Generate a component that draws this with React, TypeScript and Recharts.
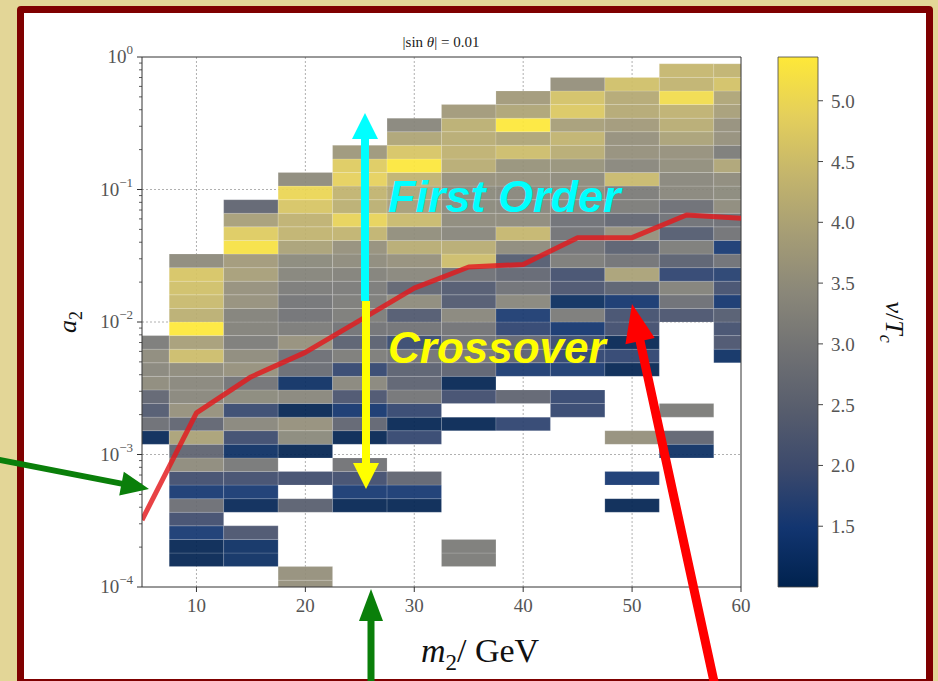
import React from 'react';
import { ComposedChart, XAxis, YAxis, CartesianGrid, ReferenceArea, ReferenceLine, Line } from 'recharts';

const _ = null;

// m2 grid (GeV), one heat-map column per value
const M2_CENTERS = [5, 10, 15, 20, 25, 30, 35, 40, 45, 50, 55, 60];
const M2_MIN = 5;
const M2_MAX = 60;
const M2_HALF = 2.5;

// a2 grid: log-spaced points from 1e-4 to 1
const A2_LOG_MIN = -4;
const A2_LOG_MAX = 0;
const A2_POINTS = 40;

// v/Tc for each m2 column, from the lowest a2 row upward (_ = no point)
const VT_M5 = [_, _, _, _, _, _, _, _, _, _, _, 1.11, 2.78, 2.28, 2.56, 3.44, 3.33, 3.44, 3.06];
const VT_M10 = [_, _, 1.06, 1.06, 1.5, 2.0, 2.78, 1.5, 2.0, 3.44, 2.56, 3.94, 2.56, 3.56, 3.33, 3.33, 3.44, 4.5, 3.89, 5.36, 4.22, 4.44, 4.56, 4.67, 3.44];
const VT_M15 = [_, _, 1.28, 1.28, 2.17, _, 1.11, 1.5, 2.0, 3.0, 1.28, 1.94, 3.33, 1.89, 3.39, 2.89, 3.56, 3.44, 3.11, 3.22, 3.22, 3.56, 3.56, 3.89, 3.78, 5.22, 4.78, 3.89, 2.56];
const VT_M20 = [3.56, 3.56, _, _, _, _, 2.44, _, 2.0, _, 1.06, 3.39, 3.56, 1.06, 3.33, 1.28, 2.72, 2.78, 3.56, 3.06, 2.89, 2.94, 3.06, 3.28, 3.39, 3.94, 4.33, 4.28, 4.67, 5.0, 3.44];
const VT_M25 = [_, _, _, _, _, _, 1.06, 1.5, 2.0, 2.89, _, 1.06, 2.56, 1.44, 2.17, 3.33, 1.83, 3.11, 2.44, 2.89, 3.11, 3.11, 3.06, 3.22, 3.44, 3.56, 4.33, 4.94, 4.22, 4.33, 4.89, 4.78, 3.72];
const VT_M30 = [_, _, _, _, _, _, 1.06, 1.5, 2.56, _, _, 1.83, 1.06, 1.83, 2.94, 2.5, 2.44, 2.89, 1.89, 2.89, 2.28, 3.44, 2.56, 3.33, 3.56, 4.17, 3.5, 4.44, 3.89, 4.0, 4.33, 5.33, 4.67, 4.0, 3.33];
const VT_M35 = [_, _, 3.11, 3.11, _, _, _, _, _, _, _, _, 1.06, _, 2.0, 1.06, 2.5, 2.94, 2.83, 2.89, 3.33, 2.28, 2.28, 2.83, 4.5, 4.17, 3.33, 3.44, 3.39, 3.39, 3.56, 4.17, 4.28, 4.17, 4.22, 3.78];
const VT_M40 = [_, _, _, _, _, _, _, _, _, _, _, _, 1.78, _, 2.56, _, 1.56, 2.44, 2.56, 1.78, 1.56, 3.33, 2.83, 2.61, 2.33, 3.44, 4.39, 3.44, 3.33, 3.33, 3.56, 3.61, 4.5, 4.0, 5.35, 4.0, 3.78];
const VT_M45 = [_, _, _, _, _, _, _, _, _, _, _, _, _, 1.83, 1.83, _, 1.56, 1.78, 1.89, 1.44, 3.06, 1.22, 2.17, 2.05, 3.11, 2.89, 2.89, 2.83, 3.33, 3.44, 3.44, 3.61, 4.17, 4.33, 3.89, 4.72, 4.61, 3.56];
const VT_M50 = [_, _, _, _, _, _, 1.06, _, 1.5, _, _, 3.56, _, _, _, _, 1.06, 1.78, 1.06, 2.0, 2.05, 1.44, 2.44, 3.94, 2.89, 2.44, 3.56, 2.61, 3.11, 3.11, 4.44, 3.33, 3.56, 3.56, 3.78, 4.11, 4.11, 4.56];
const VT_M55 = [_, _, _, _, _, _, _, _, _, _, 1.28, 2.56, _, 3.11, _, _, _, _, _, _, 2.17, 2.78, 3.22, 1.78, 2.44, 3.11, 2.33, 2.83, 2.78, 3.33, 3.33, 3.5, 3.56, 3.94, 4.17, 4.28, 5.11, 4.33, 4.39];
const VT_M60 = [_, _, _, _, _, _, _, _, _, _, _, _, _, _, _, _, _, 1.28, 2.17, 2.05, 2.33, 1.44, 2.05, 1.67, 2.83, 1.5, 2.89, 2.78, 3.44, 3.39, 3.44, 4.0, 3.11, 3.56, 3.56, 3.89, 4.0, 4.61, 4.33];

// critical line between first order and crossover
const CRIT_M2 = [5, 10, 15, 20, 25, 30, 35, 40, 45, 50, 55, 60];
const CRIT_A2 = [3.2e-4, 2.06e-3, 3.85e-3, 5.9e-3, 1.03e-2, 1.8e-2, 2.6e-2, 2.72e-2, 4.33e-2, 4.33e-2, 6.42e-2, 6.06e-2];

const X_TICKS = [10, 20, 30, 40, 50, 60];
const Y_MAJOR = [1e-4, 1e-3, 1e-2, 1e-1, 1];
const CBAR_TICKS = [1.5, 2.0, 2.5, 3.0, 3.5, 4.0, 4.5, 5.0];
const V_MIN = 1.0;
const V_MAX = 5.36;

const CIVIDIS = ['#00224e', '#123570', '#3b496c', '#575d6d', '#707173', '#8a8779', '#a69d75', '#c4b56c', '#e4cf5b', '#fee838'];

const SERIF = '"Liberation Serif", "DejaVu Serif", serif';
const SANS = '"Liberation Sans", Arial, sans-serif';

const hexToRgb = (h: string) => [1, 3, 5].map((i) => parseInt(h.slice(i, i + 2), 16));

const cividis = (v: number) => {
  let t = (v - V_MIN) / (V_MAX - V_MIN);
  t = Math.max(0, Math.min(1, t));
  const pos = t * (CIVIDIS.length - 1);
  const i = Math.min(CIVIDIS.length - 2, Math.floor(pos));
  const f = pos - i;
  const a = hexToRgb(CIVIDIS[i]);
  const b = hexToRgb(CIVIDIS[i + 1]);
  const c = a.map((x, j) => Math.round(x + (b[j] - x) * f));
  return `rgb(${c[0]},${c[1]},${c[2]})`;
};

const COLUMNS = [VT_M5, VT_M10, VT_M15, VT_M20, VT_M25, VT_M30, VT_M35, VT_M40, VT_M45, VT_M50, VT_M55, VT_M60];
const rowStep = (A2_LOG_MAX - A2_LOG_MIN) / (A2_POINTS - 1);

const cells = COLUMNS.flatMap((col, i) => {
  const m = M2_CENTERS[i];
  return col.flatMap((v, k) => {
    if (v == null) return [];
    const c = A2_LOG_MIN + k * rowStep;
    return [{
      key: `${i}-${k}`,
      x1: Math.max(M2_MIN, m - M2_HALF),
      x2: Math.min(M2_MAX, m + M2_HALF),
      y1: Math.max(10 ** A2_LOG_MIN, 10 ** (c - rowStep / 2)),
      y2: Math.min(10 ** A2_LOG_MAX, 10 ** (c + rowStep / 2)),
      fill: cividis(v),
    }];
  });
});

const critData = CRIT_M2.map((m2, i) => ({ m2, a2: CRIT_A2[i] }));

const yMinor = Y_MAJOR.slice(0, -1).flatMap((d) => [2, 3, 4, 5, 6, 7, 8, 9].map((f) => f * d));

const YTick = (props: any) => {
  const { x, y, payload } = props;
  const lg = Math.log10(payload.value);
  const exp = Math.round(lg);
  const major = Math.abs(lg - exp) < 1e-6;
  return (
    <g>
      <line x1={x} x2={x - (major ? 5 : 3)} y1={y} y2={y} stroke="#333" strokeWidth={major ? 1 : 0.8} />
      {major && (
        <text x={x - 9} y={y + 6} textAnchor="end" fill="#555" fontSize={19} fontFamily={SERIF}>
          10
          <tspan dy={-9} fontSize={13}>{exp === 0 ? '0' : `\u2212${Math.abs(exp)}`}</tspan>
        </text>
      )}
    </g>
  );
};

const XTick = (props: any) => {
  const { x, y, payload } = props;
  return (
    <g>
      <line x1={x} x2={x} y1={y} y2={y + 5} stroke="#333" />
      <text x={x} y={y + 25} textAnchor="middle" fill="#555" fontSize={19} fontFamily={SERIF}>
        {payload.value}
      </text>
    </g>
  );
};

const CbarTick = (props: any) => {
  const { x, y, payload } = props;
  return (
    <g>
      <line x1={x} x2={x + 5} y1={y} y2={y} stroke="#444" />
      <text x={x + 13} y={y + 7} textAnchor="start" fill="#555" fontSize={19} fontFamily={SERIF}>
        {payload.value.toFixed(1)}
      </text>
    </g>
  );
};

const arrowPoints = (x1: number, y1: number, x2: number, y2: number, shaft: number, headW: number, headL: number) => {
  const dx = x2 - x1;
  const dy = y2 - y1;
  const len = Math.hypot(dx, dy);
  const ux = dx / len;
  const uy = dy / len;
  const px = -uy;
  const py = ux;
  const bx = x2 - ux * headL;
  const by = y2 - uy * headL;
  const s = shaft / 2;
  const h = headW / 2;
  const pts = [
    [x1 + px * s, y1 + py * s],
    [bx + px * s, by + py * s],
    [bx + px * h, by + py * h],
    [x2, y2],
    [bx - px * h, by - py * h],
    [bx - px * s, by - py * s],
    [x1 - px * s, y1 - py * s],
  ];
  return pts.map((p) => p.join(',')).join(' ');
};

const App = () => {
  return (
    <div style={{ position: 'absolute', left: 0, top: 0, width: 938, height: 681, overflow: 'hidden', background: '#e3d697' }}>
      <svg width={0} height={0} style={{ position: 'absolute' }}>
        <defs>
          <linearGradient id="cividisBar" x1="0" y1="1" x2="0" y2="0">
            {CIVIDIS.map((c, i) => (
              <stop key={c} offset={i / (CIVIDIS.length - 1)} stopColor={c} />
            ))}
          </linearGradient>
        </defs>
      </svg>

      <div
        style={{
          position: 'absolute', left: 17, top: 6, width: 902, height: 666,
          border: '7px solid #7f0000', borderRadius: 4, background: '#ffffff',
        }}
      />

      <div style={{ position: 'absolute', left: 0, top: 0 }}>
        <ComposedChart width={938} height={681} data={critData} margin={{ top: 57, right: 197, bottom: 64, left: 82 }}>
          <CartesianGrid
            stroke="#b0b0b0"
            strokeDasharray="2 2"
            horizontalValues={[1e-3, 1e-2, 1e-1]}
            verticalValues={[10, 20, 30, 40, 50]}
          />
          <XAxis
            dataKey="m2"
            type="number"
            domain={[M2_MIN, M2_MAX]}
            allowDataOverflow
            ticks={X_TICKS}
            tick={<XTick />}
            tickLine={false}
            tickSize={0}
            tickMargin={0}
            height={30}
            axisLine={{ stroke: '#333' }}
          />
          <YAxis
            type="number"
            scale="log"
            domain={[1e-4, 1]}
            allowDataOverflow
            ticks={[...Y_MAJOR, ...yMinor]}
            interval={0}
            tick={<YTick />}
            tickLine={false}
            tickSize={0}
            tickMargin={0}
            width={60}
            axisLine={{ stroke: '#333' }}
          />
          {cells.map((c) => (
            <ReferenceArea
              key={c.key}
              x1={c.x1}
              x2={c.x2}
              y1={c.y1}
              y2={c.y2}
              fill={c.fill}
              fillOpacity={0.93}
              stroke="#ffffff"
              strokeOpacity={0.15}
              strokeWidth={1}
              ifOverflow="visible"
            />
          ))}
          <ReferenceLine y={1} stroke="#333" />
          <ReferenceLine x={M2_MAX} stroke="#333" />
          <Line
            dataKey="a2"
            type="linear"
            stroke="#e3191c"
            strokeOpacity={0.82}
            strokeWidth={5}
            strokeLinejoin="round"
            dot={false}
            activeDot={false}
            isAnimationActive={false}
          />
        </ComposedChart>
      </div>

      <div style={{ position: 'absolute', left: 0, top: 0 }}>
        <ComposedChart width={938} height={681} data={[{ x: 0 }, { x: 1 }]} margin={{ top: 57, right: 50, bottom: 94, left: 778 }}>
          <XAxis dataKey="x" type="number" domain={[0, 1]} hide />
          <YAxis
            orientation="right"
            type="number"
            domain={[V_MIN, V_MAX]}
            allowDataOverflow
            ticks={CBAR_TICKS}
            interval={0}
            tick={<CbarTick />}
            tickLine={false}
            tickSize={0}
            tickMargin={0}
            axisLine={false}
            width={70}
          />
          <ReferenceArea x1={0} x2={1} y1={V_MIN} y2={V_MAX} fill="url(#cividisBar)" fillOpacity={1} stroke="#444" strokeWidth={0.8} ifOverflow="visible" />
        </ComposedChart>
      </div>

      <svg width={938} height={681} style={{ position: 'absolute', left: 0, top: 0, pointerEvents: 'none' }}>
        <text x={441} y={47} textAnchor="middle" fontSize={15} fontFamily={SERIF} fill="#222">
          |sin <tspan fontStyle="italic">θ</tspan>| = 0.01
        </text>
        <text transform="translate(76,322) rotate(-90)" textAnchor="middle" fontSize={26} fontFamily={SERIF} fill="#111">
          <tspan fontStyle="italic">a</tspan>
          <tspan fontSize={18} dy={6}>2</tspan>
        </text>
        <text x={480} y={662} textAnchor="middle" fontSize={34} fontFamily={SERIF} fill="#111">
          <tspan fontStyle="italic">m</tspan>
          <tspan fontSize={23} dy={8}>2</tspan>
          <tspan dy={-8}>{'/ GeV'}</tspan>
        </text>
        <text transform="translate(886,322) rotate(90)" textAnchor="middle" fontSize={26} fontFamily={SERIF} fill="#111">
          <tspan fontStyle="italic">v</tspan>
          <tspan>/</tspan>
          <tspan fontStyle="italic">T</tspan>
          <tspan fontStyle="italic" fontSize={18} dy={6}>c</tspan>
        </text>

        <polygon points={arrowPoints(365, 301, 365, 113, 8, 26, 26)} fill="#00ffff" />
        <polygon points={arrowPoints(366, 301, 366, 489, 8, 26, 26)} fill="#ffff00" />
        <polygon points={arrowPoints(-5, 459, 149, 489, 6, 24, 28)} fill="#0a7f0a" />
        <polygon points={arrowPoints(371, 700, 371, 589, 7, 24, 32)} fill="#0a7f0a" />
        <polygon points={arrowPoints(718, 700, 632, 304, 9, 30, 38)} fill="#ff0000" />

        <text x={388} y={212} fontSize={45} fontWeight="bold" fontStyle="italic" fontFamily={SANS} fill="#00ffff">
          First Order
        </text>
        <text x={388} y={363} fontSize={44} fontWeight="bold" fontStyle="italic" fontFamily={SANS} fill="#ffff00">
          Crossover
        </text>
      </svg>
    </div>
  );
};

export default App;
